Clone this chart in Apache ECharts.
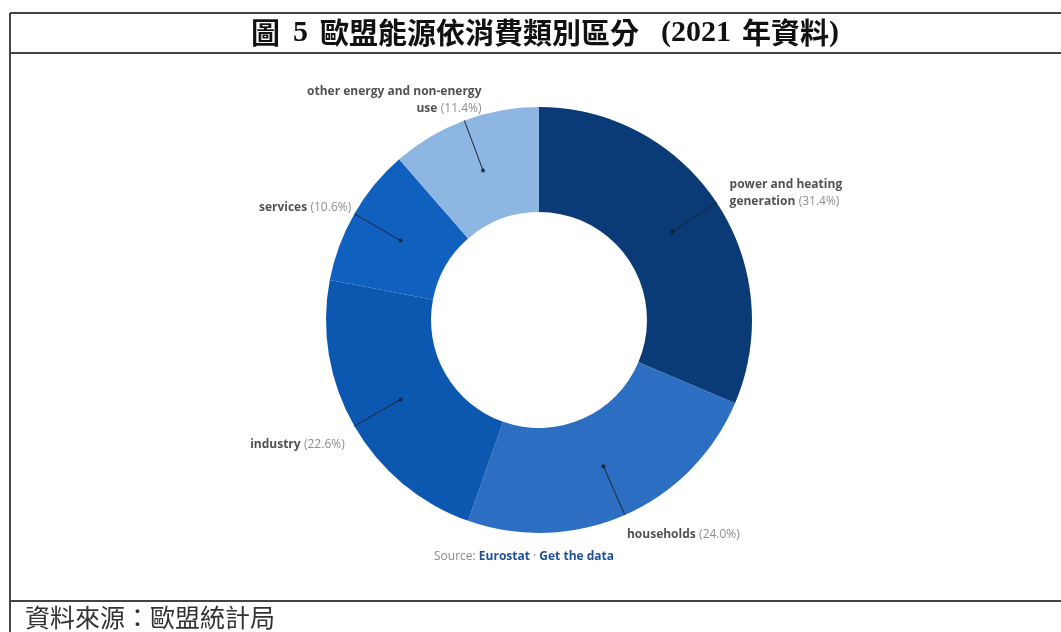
<!DOCTYPE html>
<html>
<head>
<meta charset="utf-8">
<script src="https://cdn.jsdelivr.net/npm/echarts@6/dist/echarts.min.js"></script>
<style>
  html, body { margin: 0; padding: 0; background: #ffffff; }
  #chart { width: 1061px; height: 632px; }
</style>
</head>
<body>
<div id="chart"></div>
<script>
// EU final energy consumption by use, 2021 (share, %)
const categories = [
  'power and heating generation',
  'households',
  'industry',
  'services',
  'other energy and non-energy use'
];
const shares = [31.4, 24.0, 22.6, 10.6, 11.4];
// label text with the line breaks used on the chart
const labelText = [
  'power and heating\ngeneration',
  'households',
  'industry',
  'services',
  'other energy and non-energy\nuse'
];
const sliceColors = ['#0b3b77', '#2c6fc2', '#0c57b0', '#1060c0', '#8db6e3'];

// where each label sits relative to the end of its leader line
const labelPlacement = [
  { position: 'right', distance: 8, align: 'left', offset: [0, -6] },
  { position: 'bottom', distance: 6, align: 'left', offset: [0, 0] },
  { position: 'bottom', distance: 7, align: 'right', offset: [-5, 0] },
  { position: 'left', distance: 0, align: 'right', offset: [2, -4] },
  { position: 'top', distance: -2, align: 'right', offset: [19, 0] }
];

const CENTER = [539, 320];
const OUTER = 213;
const INNER = 108;
const DOT_R = 0.75;     // leader line start, as a fraction of the outer radius
const END_R = 1.025;    // leader line end

// mid-point of each slice on a 0..100 angle scale
const total = shares.reduce((a, b) => a + b, 0);
const mids = [];
let acc = 0;
shares.forEach(v => { mids.push((acc + v / 2) / total * 100); acc += v; });

const chart = echarts.init(document.getElementById('chart'), null, { renderer: 'canvas' });

const leaderSeries = mids.map((m, i) => ({
  type: 'line',
  coordinateSystem: 'polar',
  silent: true,
  clip: false,
  symbol: 'none',
  z: 5,
  lineStyle: { color: '#1c2433', width: 1 },
  data: [[DOT_R, m], [END_R, m]]
}));

const option = {
  backgroundColor: '#ffffff',
  animation: false,
  title: {
    text: '{c|圖}{g1| }{l|5}{g2| }{c|歐盟能源依消費類別區分}{g3| }{l|(2021}{g4| }{c|年資料}{l|)}',
    left: 540,
    textAlign: 'center',
    top: 13,
    textStyle: {
      rich: {
        c: { fontFamily: 'Noto Sans CJK TC', fontWeight: 'bold', fontSize: 29, color: '#111' },
        l: { fontFamily: 'Liberation Serif', fontWeight: 'bold', fontSize: 30, color: '#111' },
        g1: { width: 13, fontSize: 29 },
        g2: { width: 12, fontSize: 29 },
        g3: { width: 22, fontSize: 29 },
        g4: { width: 11, fontSize: 29 }
      }
    }
  },
  polar: { center: CENTER, radius: OUTER },
  angleAxis: {
    type: 'value', min: 0, max: 100, startAngle: 90, clockwise: true,
    show: false, splitLine: { show: false }
  },
  radiusAxis: { type: 'value', min: 0, max: 1, show: false, splitLine: { show: false } },
  series: [
    {
      type: 'pie',
      center: CENTER,
      radius: [INNER, OUTER],
      startAngle: 90,
      clockwise: true,
      silent: true,
      label: { show: false },
      labelLine: { show: false },
      itemStyle: { borderWidth: 0 },
      data: categories.map((name, i) => ({
        name: name,
        value: shares[i],
        itemStyle: { color: sliceColors[i] }
      }))
    },
    ...leaderSeries,
    {
      // dots at the inner end of each leader line
      type: 'scatter',
      coordinateSystem: 'polar',
      silent: true,
      clip: false,
      z: 6,
      symbolSize: 4,
      itemStyle: { color: '#111a26' },
      data: mids.map(m => [DOT_R, m])
    },
    {
      // labels at the outer end of each leader line
      type: 'scatter',
      coordinateSystem: 'polar',
      silent: true,
      clip: false,
      z: 7,
      symbolSize: 1,
      itemStyle: { color: 'rgba(0,0,0,0)' },
      data: mids.map((m, i) => ({
        value: [END_R, m],
        label: Object.assign({
          show: true,
          formatter: '{n|' + labelText[i] + '} {p|(' + shares[i].toFixed(1) + '%)}',
          rich: {
            n: { fontFamily: 'Open Sans', fontWeight: 'bold', fontSize: 12, color: '#262626', lineHeight: 17 },
            p: { fontFamily: 'Open Sans', fontSize: 12, color: '#707070', lineHeight: 17 }
          }
        }, labelPlacement[i])
      }))
    }
  ],
  graphic: [
    // frame
    { type: 'line', shape: { x1: 10, y1: 13, x2: 10, y2: 632 }, style: { stroke: '#444', lineWidth: 2 } },
    { type: 'line', shape: { x1: 10, y1: 13, x2: 1061, y2: 13 }, style: { stroke: '#444', lineWidth: 2 } },
    { type: 'line', shape: { x1: 10, y1: 53, x2: 1061, y2: 53 }, style: { stroke: '#444', lineWidth: 2 } },
    { type: 'line', shape: { x1: 10, y1: 601, x2: 1061, y2: 601 }, style: { stroke: '#444', lineWidth: 2 } },
    {
      type: 'text',
      left: 434,
      top: 551,
      style: {
        text: '{s|Source: }{b|Eurostat}{s| · }{b|Get the data}',
        rich: {
          s: { fontFamily: 'Open Sans', fontSize: 12, fill: '#8a8a8a' },
          b: { fontFamily: 'Open Sans', fontSize: 12, fontWeight: 'bold', fill: '#1f4f97' }
        }
      }
    },
    {
      type: 'text',
      left: 25,
      top: 605,
      style: {
        text: '資料來源：歐盟統計局',
        font: '25px "Noto Sans CJK TC"',
        fill: '#333333'
      }
    }
  ]
};

chart.setOption(option);
</script>
</body>
</html>
